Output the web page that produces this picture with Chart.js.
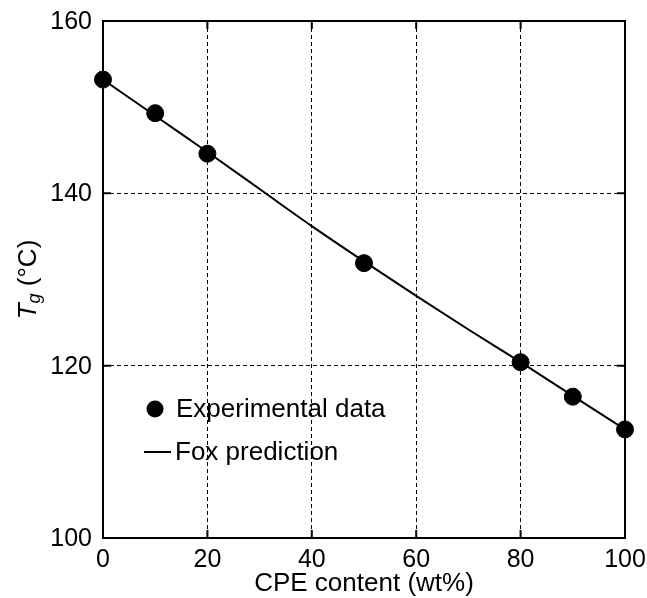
<!DOCTYPE html>
<html>
<head>
<meta charset="utf-8">
<script src="https://cdn.jsdelivr.net/npm/chart.js@4.4.1/dist/chart.umd.min.js"></script>
<style>
  html, body { margin: 0; padding: 0; background: #fff; }
  #wrap { width: 647px; height: 598px; }
</style>
</head>
<body>
<div id="wrap"><canvas id="tg-chart" width="647" height="598"></canvas></div>
<script>
  // CPE content (wt%) and measured Tg (°C)
  const cpeContent = [0, 10, 20, 50, 80, 90, 100];
  const tgMeasured = [153.2, 149.3, 144.6, 131.9, 120.4, 116.4, 112.6];

  // Fox equation curve, read at 10 wt% steps
  const foxContent = [0, 10, 20, 30, 40, 50, 60, 70, 80, 90, 100];
  const foxTg = [153.2, 149.0, 144.8, 140.5, 136.2, 132.1, 128.1, 124.2, 120.4, 116.5, 112.6];

  const xTicks = [0, 20, 40, 60, 80, 100];
  const yTicks = [100, 120, 140, 160];

  const FONT = 'Liberation Sans, Arial, Helvetica, sans-serif';

  // frame, inward ticks, tick labels, axis titles and the in-plot legend
  const decorPlugin = {
    id: 'decor',
    afterDraw(chart) {
      const { ctx, chartArea: a, scales } = chart;
      const xs = scales.x, ys = scales.y;
      ctx.save();
      ctx.strokeStyle = '#000';
      ctx.lineWidth = 2;
      ctx.strokeRect(a.left, a.top, a.right - a.left, a.bottom - a.top);

      const tl = 8;
      ctx.beginPath();
      xTicks.forEach((v) => {
        const px = xs.getPixelForValue(v);
        ctx.moveTo(px, a.bottom); ctx.lineTo(px, a.bottom - tl);
        ctx.moveTo(px, a.top); ctx.lineTo(px, a.top + tl);
      });
      yTicks.forEach((v) => {
        const py = ys.getPixelForValue(v);
        ctx.moveTo(a.left, py); ctx.lineTo(a.left + tl, py);
        ctx.moveTo(a.right, py); ctx.lineTo(a.right - tl, py);
      });
      ctx.stroke();

      ctx.fillStyle = '#000';
      ctx.font = '25px ' + FONT;
      ctx.textBaseline = 'middle';
      ctx.textAlign = 'center';
      xTicks.forEach((v) => {
        ctx.fillText(String(v), xs.getPixelForValue(v), a.bottom + 22);
      });
      ctx.textAlign = 'right';
      yTicks.forEach((v) => {
        ctx.fillText(String(v), a.left - 11, ys.getPixelForValue(v) + 1);
      });

      // x title
      ctx.font = '26px ' + FONT;
      ctx.textAlign = 'center';
      ctx.fillText('CPE content (wt%)', (a.left + a.right) / 2, 584);

      // y title: italic T with subscript g
      ctx.save();
      ctx.translate(29, (a.top + a.bottom) / 2);
      ctx.rotate(-Math.PI / 2);
      ctx.textAlign = 'left';
      ctx.textBaseline = 'middle';
      ctx.font = 'italic 26px ' + FONT;
      const wT = ctx.measureText('T').width;
      ctx.font = 'italic 18px ' + FONT;
      const wg = ctx.measureText('g').width;
      ctx.font = '26px ' + FONT;
      const rest = ' (°C)';
      const wr = ctx.measureText(rest).width;
      const x0 = -(wT + wg + wr) / 2;
      ctx.font = 'italic 26px ' + FONT;
      ctx.fillText('T', x0, 0);
      ctx.font = 'italic 18px ' + FONT;
      ctx.fillText('g', x0 + wT, 6);
      ctx.font = '26px ' + FONT;
      ctx.fillText(rest, x0 + wT + wg, 0);
      ctx.restore();

      // legend
      ctx.font = '26px ' + FONT;
      ctx.textAlign = 'left';
      ctx.beginPath();
      ctx.arc(155, 409, 8.5, 0, Math.PI * 2);
      ctx.fill();
      ctx.fillText('Experimental data', 176, 410);
      ctx.beginPath();
      ctx.moveTo(144, 452);
      ctx.lineTo(171, 452);
      ctx.stroke();
      ctx.fillText('Fox prediction', 175, 453);
      ctx.restore();
    },
  };

  new Chart(document.getElementById('tg-chart'), {
    type: 'scatter',
    data: {
      datasets: [
        {
          label: 'Fox prediction',
          type: 'line',
          data: foxContent.map((x, i) => ({ x: x, y: foxTg[i] })),
          borderColor: '#000',
          borderWidth: 2,
          pointRadius: 0,
          cubicInterpolationMode: 'monotone',
          fill: false,
        },
        {
          label: 'Experimental data',
          data: cpeContent.map((x, i) => ({ x: x, y: tgMeasured[i] })),
          backgroundColor: '#000',
          borderColor: '#000',
          pointRadius: 8.5,
          pointHoverRadius: 8.5,
          clip: false,
        },
      ],
    },
    options: {
      responsive: false,
      animation: false,
      events: [],
      layout: { padding: { top: 21, right: 22, left: 0, bottom: 0 } },
      plugins: { legend: { display: false }, tooltip: { enabled: false } },
      scales: {
        x: {
          type: 'linear',
          min: 0,
          max: 100,
          afterBuildTicks: (s) => { s.ticks = xTicks.map((v) => ({ value: v })); },
          afterFit: (s) => { s.height = 60; },
          ticks: { display: false },
          grid: {
            color: (c) => (c.tick && (c.tick.value === 0 || c.tick.value === 100) ? 'rgba(0,0,0,0)' : '#000'),
            lineWidth: 1,
            drawTicks: false,
          },
          border: { display: false, dash: [4, 3] },
        },
        y: {
          min: 100,
          max: 160,
          afterBuildTicks: (s) => { s.ticks = yTicks.map((v) => ({ value: v })); },
          afterFit: (s) => { s.width = 103; },
          ticks: { display: false },
          grid: {
            color: (c) => (c.tick && (c.tick.value === 100 || c.tick.value === 160) ? 'rgba(0,0,0,0)' : '#000'),
            lineWidth: 1,
            drawTicks: false,
          },
          border: { display: false, dash: [4, 3] },
        },
      },
    },
    plugins: [decorPlugin],
  });
</script>
</body>
</html>
